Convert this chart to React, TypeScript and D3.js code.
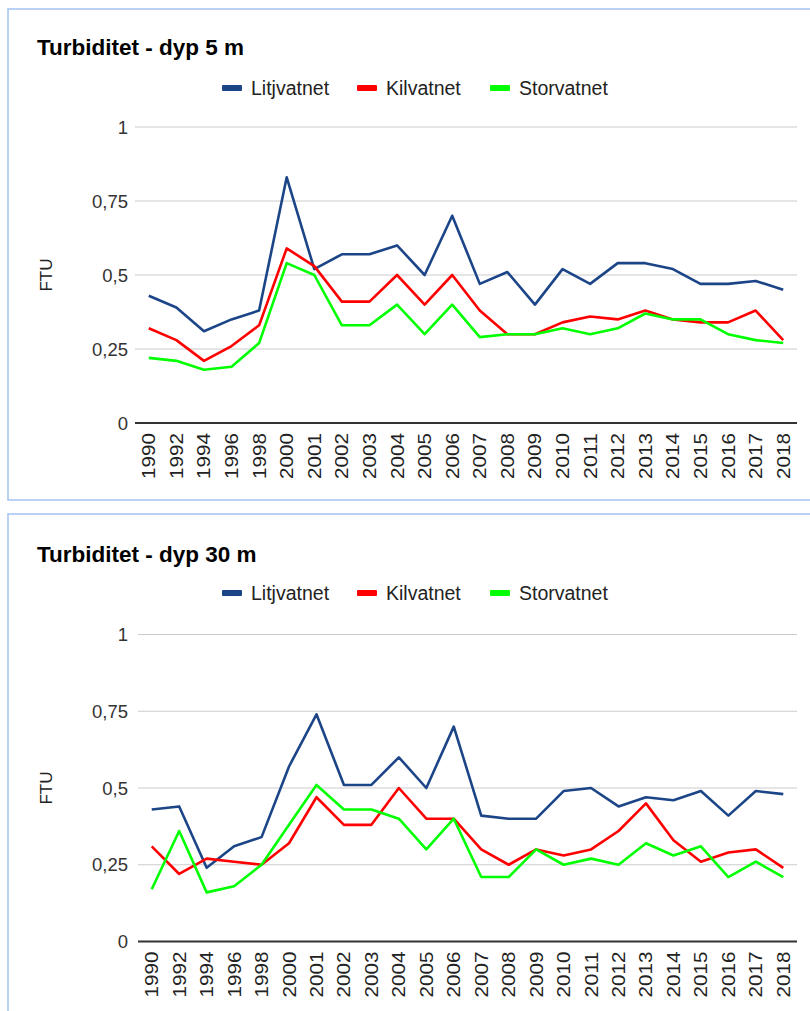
import React from "react";
import * as d3 from "d3";

const years = ["1990","1992","1994","1996","1998","2000","2001","2002","2003","2004","2005","2006","2007","2008","2009","2010","2011","2012","2013","2014","2015","2016","2017","2018"];
const seriesNames = ["Litjvatnet", "Kilvatnet", "Storvatnet"];
const seriesColors = ["#1c4587", "#ff0000", "#00ff00"];
const yTicks = [0, 0.25, 0.5, 0.75, 1];
const yTickLabels = ["0", "0,25", "0,5", "0,75", "1"];

const litj5 = [0.43,0.39,0.31,0.35,0.38,0.83,0.52,0.57,0.57,0.60,0.50,0.70,0.47,0.51,0.40,0.52,0.47,0.54,0.54,0.52,0.47,0.47,0.48,0.45];
const kil5 = [0.32,0.28,0.21,0.26,0.33,0.59,0.53,0.41,0.41,0.50,0.40,0.50,0.38,0.30,0.30,0.34,0.36,0.35,0.38,0.35,0.34,0.34,0.38,0.28];
const stor5 = [0.22,0.21,0.18,0.19,0.27,0.54,0.50,0.33,0.33,0.40,0.30,0.40,0.29,0.30,0.30,0.32,0.30,0.32,0.37,0.35,0.35,0.30,0.28,0.27];

const litj30 = [0.43,0.44,0.24,0.31,0.34,0.57,0.74,0.51,0.51,0.60,0.50,0.70,0.41,0.40,0.40,0.49,0.50,0.44,0.47,0.46,0.49,0.41,0.49,0.48];
const kil30 = [0.31,0.22,0.27,0.26,0.25,0.32,0.47,0.38,0.38,0.50,0.40,0.40,0.30,0.25,0.30,0.28,0.30,0.36,0.45,0.33,0.26,0.29,0.30,0.24];
const stor30 = [0.17,0.36,0.16,0.18,0.25,0.38,0.51,0.43,0.43,0.40,0.30,0.40,0.21,0.21,0.30,0.25,0.27,0.25,0.32,0.28,0.31,0.21,0.26,0.21];

const titles = ["Turbiditet - dyp 5 m", "Turbiditet - dyp 30 m"];
const yAxisTitle = "FTU";

const FONT = "'Liberation Sans', Arial, sans-serif";

type ChartProps = {
  title: string;
  series: number[][];
  panelTop: number;
  panelHeight: number;
  titleY: number;
  legendY: number;
  plotLeft: number;
  plotRight: number;
  plotTop: number;
  plotBottom: number;
};

function Chart(p: ChartProps) {
  const x = d3.scaleBand<string>().domain(years).range([p.plotLeft, p.plotRight]);
  const y = d3.scaleLinear().domain([0, 1]).range([p.plotBottom, p.plotTop]);
  const line = d3
    .line<number>()
    .x((_, i) => (x(years[i]) as number) + x.bandwidth() / 2)
    .y((d) => y(d));
  const legendXs = [222, 357, 490];
  return (
    <g>
      <rect x={8} y={p.panelTop} width={820} height={p.panelHeight} fill="#fff" stroke="#a4c2f4" strokeWidth={1.5} />
      <text x={37} y={p.titleY} fontFamily={FONT} fontWeight="bold" fontSize={22.5} fill="#000">
        {p.title}
      </text>
      {seriesNames.map((n, i) => (
        <g key={n}>
          <rect x={legendXs[i]} y={p.legendY - 3} width={20} height={6} rx={1} fill={seriesColors[i]} />
          <text x={legendXs[i] + 29} y={p.legendY + 6.5} fontFamily={FONT} fontSize={19.5} fill="#222">
            {n}
          </text>
        </g>
      ))}
      {yTicks.map((t, i) => (
        <g key={t}>
          {t !== 0 && (
            <line x1={p.plotLeft} x2={p.plotRight} y1={y(t)} y2={y(t)} stroke="#cccccc" strokeWidth={1.2} />
          )}
          <text
            x={128}
            y={y(t)}
            dy="0.36em"
            textAnchor="end"
            fontFamily={FONT}
            fontSize={18.5}
            fill="#333"
          >
            {yTickLabels[i]}
          </text>
        </g>
      ))}
      <text
        transform={`translate(${52},${(p.plotTop + p.plotBottom) / 2}) rotate(-90)`}
        textAnchor="middle"
        fontFamily={FONT}
        fontSize={17}
        fill="#222"
      >
        {yAxisTitle}
      </text>
      {p.series.map((s, i) => (
        <path key={i} d={line(s) as string} fill="none" stroke={seriesColors[i]} strokeWidth={2.6} strokeLinejoin="round" />
      ))}
      <line x1={p.plotLeft} x2={p.plotRight} y1={y(0)} y2={y(0)} stroke="#333" strokeWidth={2} />
      {years.map((yr) => {
        const cx = (x(yr) as number) + x.bandwidth() / 2;
        return (
          <text
            key={yr}
            transform={`translate(${cx + 6.5},${p.plotBottom + 10}) rotate(-90)`}
            textAnchor="end"
            fontFamily={FONT}
            fontSize={18}
            fill="#222"
            textLength={46}
            lengthAdjust="spacingAndGlyphs"
          >
            {yr}
          </text>
        );
      })}
    </g>
  );
}

export default function App() {
  return (
    <svg
      width={810}
      height={1011}
      style={{ position: "absolute", left: 0, top: 0, background: "#fff" }}
    >
      <rect x={0} y={0} width={810} height={1011} fill="#fff" />
      <Chart
        title={titles[0]}
        series={[litj5, kil5, stor5]}
        panelTop={9}
        panelHeight={491}
        titleY={55}
        legendY={88}
        plotLeft={135}
        plotRight={797}
        plotTop={127}
        plotBottom={423}
      />
      <Chart
        title={titles[1]}
        series={[litj30, kil30, stor30]}
        panelTop={514}
        panelHeight={520}
        titleY={562}
        legendY={593}
        plotLeft={138}
        plotRight={797}
        plotTop={634.5}
        plotBottom={941.5}
      />
    </svg>
  );
}
